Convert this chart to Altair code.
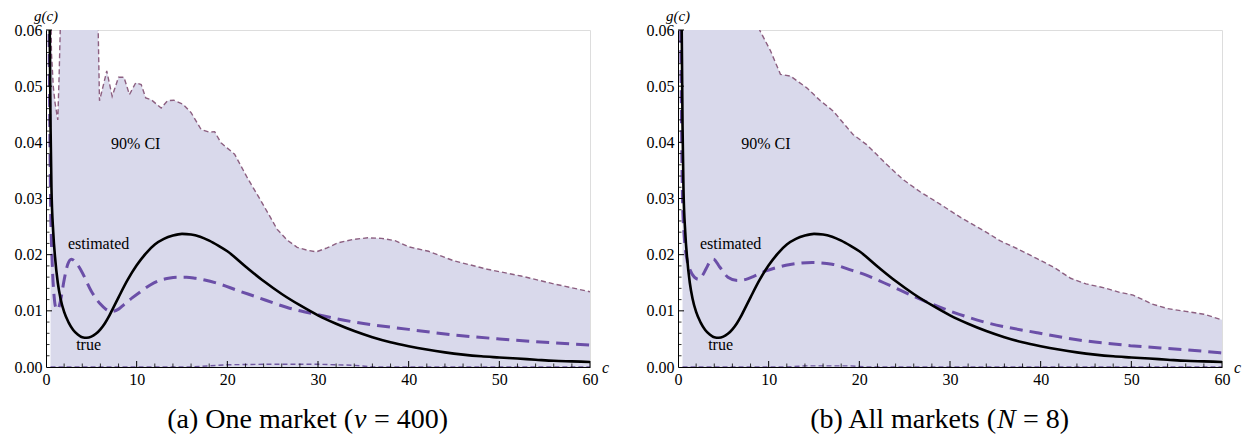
import altair as alt
import pandas as pd

# ---------------- data ----------------
true_c = [0.3, 0.4, 0.5, 0.6, 0.8, 1.0, 1.3, 1.6, 2.0, 2.5, 3.0, 3.5, 4.0, 4.5, 5.0, 5.5, 6.0, 6.5, 7.0, 7.5,
          8, 9, 10, 11, 12, 13, 14, 15, 16, 17, 18, 19, 20, 22, 24, 26, 28, 30, 32, 34, 36, 38, 40,
          42, 44, 46, 48, 50, 52, 54, 56, 58, 60]
true_v = [0.090, 0.062, 0.043, 0.032, 0.024, 0.0195, 0.0150, 0.0122, 0.0098, 0.0079, 0.0066, 0.0058, 0.0053,
          0.0052, 0.0054, 0.0059, 0.0067, 0.0078, 0.0092, 0.0108, 0.0124, 0.0155, 0.0181, 0.0202, 0.0218,
          0.0228, 0.0234, 0.0237, 0.0236, 0.0232, 0.0225, 0.0216, 0.0206, 0.0179, 0.0153, 0.0130, 0.0110,
          0.0092, 0.0077, 0.0064, 0.0053, 0.0044, 0.0037, 0.0031, 0.0026, 0.0022, 0.0019, 0.0017, 0.0015,
          0.0013, 0.0011, 0.0010, 0.0009]

# panel (a): one market
est_a_c = [0.3, 0.5, 0.7, 0.9, 1.1, 1.3, 1.6, 2.0, 2.4, 2.8, 3.2, 3.9, 5.0, 6.0, 6.6, 7.3, 8.0, 8.6, 9.5,
           10.5, 11.5, 12.5, 13.5, 14.5, 15.5, 16.5, 17.5, 19.3, 21, 23, 26.6, 30, 34, 40, 45, 50, 56, 60]
est_a_v = [0.070, 0.030, 0.018, 0.0125, 0.0105, 0.0102, 0.0118, 0.0155, 0.0183, 0.0192, 0.0188, 0.0171,
           0.0135, 0.0112, 0.0103, 0.0099, 0.0103, 0.0111, 0.0123, 0.0135, 0.0146, 0.0154, 0.0158, 0.0160,
           0.0160, 0.0158, 0.0155, 0.0147, 0.0137, 0.0126, 0.0106, 0.0093, 0.0080, 0.0067, 0.0057, 0.0050,
           0.0043, 0.0039]
up_a_c = [0.5, 0.6, 0.8, 1.0, 1.3, 1.45, 1.6, 2.0, 5.5, 5.7, 5.9, 6.3, 6.7, 7.3, 8.0, 8.6, 9.2, 9.9, 10.5,
          11.0, 11.6, 12.7, 13.4, 14.1, 15.1, 16.0, 17.1, 18.0, 18.6, 19.3, 20.8, 22.2, 23.7, 24.8, 25.5,
          26.6, 27.7, 28.8, 29.8, 31, 32.2, 33.8, 35.5, 37, 38.5, 40, 42.2, 45, 48.7, 52.4, 56, 60]
up_a_v = [0.070, 0.056, 0.050, 0.047, 0.044, 0.052, 0.062, 0.080, 0.080, 0.065, 0.0474, 0.0500, 0.0527,
          0.0482, 0.0516, 0.0516, 0.0485, 0.0506, 0.0503, 0.0479, 0.0476, 0.0461, 0.0474, 0.0475, 0.0468,
          0.0453, 0.0423, 0.0418, 0.0419, 0.0399, 0.0379, 0.0337, 0.0296, 0.0265, 0.0245, 0.0226, 0.0213,
          0.0208, 0.0205, 0.0212, 0.0221, 0.0227, 0.0230, 0.0229, 0.0225, 0.0214, 0.0206, 0.0189, 0.0174,
          0.0162, 0.0148, 0.0134]
lo_a_c = [0.5, 16, 18, 20, 25, 30, 34, 36, 60]
lo_a_v = [0.0, 0.0, 0.0002, 0.0004, 0.0005, 0.0005, 0.0003, 0.0, 0.0]

# panel (b): all markets
est_b_c = [0.3, 0.5, 0.7, 1.0, 1.35, 1.8, 2.3, 2.7, 3.1, 3.6, 3.9, 4.6, 5.5, 6.6, 7.5, 8.3, 9.7, 11.9, 14.8,
           17.0, 19.2, 20.7, 22.7, 26.4, 30.1, 33.8, 39.6, 44.7, 49.9, 55.8, 60]
est_b_v = [0.060, 0.0296, 0.0230, 0.0190, 0.0172, 0.0160, 0.0156, 0.0163, 0.0175, 0.0189, 0.0192, 0.0178,
           0.0160, 0.0154, 0.0156, 0.0161, 0.0171, 0.0181, 0.0186, 0.0183, 0.0172, 0.0164, 0.0150, 0.0123,
           0.0099, 0.0080, 0.0061, 0.0047, 0.0038, 0.0031, 0.0025]
up_b_c = [0.5, 8.5, 9.0, 10.2, 11.3, 12.4, 14.2, 15.7, 17.1, 19.3, 20.8, 23.0, 24.8, 26.7, 28.9, 31.2, 33.8,
          35.5, 37.5, 39.6, 41.5, 43.3, 45.0, 47.0, 48.7, 50.2, 52.3, 54, 56, 58, 60]
up_b_v = [0.090, 0.065, 0.060, 0.0563, 0.0521, 0.0518, 0.0497, 0.0474, 0.0456, 0.0414, 0.0396, 0.0361,
          0.0334, 0.0312, 0.0290, 0.0266, 0.0242, 0.0225, 0.0210, 0.0193, 0.0177, 0.0158, 0.0148, 0.0141,
          0.0133, 0.0128, 0.0112, 0.0104, 0.0099, 0.0094, 0.0084]
lo_b_c = [0.5, 12, 14, 19, 21, 60]
lo_b_v = [0.0, 0.0, 0.0002, 0.0002, 0.0, 0.0]

# axis ticks
x_labels = [0, 10, 20, 30, 40, 50, 60]
x_major = [10, 20, 30, 40, 50, 60]
x_minor = [2, 4, 6, 8, 12, 14, 16, 18, 22, 24, 26, 28, 32, 34, 36, 38, 42, 44, 46, 48, 52, 54, 56, 58]
y_labels = [0.0, 0.01, 0.02, 0.03, 0.04, 0.05, 0.06]
y_major = [0.01, 0.02, 0.03, 0.04, 0.05, 0.06]
y_minor = [0.002, 0.004, 0.006, 0.008, 0.012, 0.014, 0.016, 0.018, 0.022, 0.024, 0.026, 0.028,
           0.032, 0.034, 0.036, 0.038, 0.042, 0.044, 0.046, 0.048, 0.052, 0.054, 0.056, 0.058]

# annotations
ann_text = ["90% CI", "estimated", "true"]
ann_a_c = [9.9, 5.8, 4.7]
ann_a_v = [0.0397, 0.0219, 0.0039]
ann_b_c = [9.7, 5.8, 4.7]
ann_b_v = [0.0397, 0.0219, 0.0039]

cap_a = ["(a) One market (", "v", "= 400)"]
cap_b = ["(b) All markets (", "N", "= 8)"]

# ---------------- styling ----------------
W, H = 544, 337
SERIF = "Liberation Serif"
FILL = "#d9d9eb"
CI_COLOR = "#8c5f80"
EST_COLOR = "#6b4fa8"

xs = alt.Scale(domain=[0, 60], nice=False, zero=False)
ys = alt.Scale(domain=[0, 0.06], nice=False, zero=False)

X = alt.X("c:Q", scale=xs, title=None,
          axis=alt.Axis(values=x_labels, ticks=False, tickSize=0, grid=False, domainColor="black",
                        domainWidth=1, labelFont=SERIF, labelFontSize=16, labelColor="black",
                        labelPadding=4, labelFlush=False, format="d"))
Y = alt.Y("v:Q", scale=ys, title=None,
          axis=alt.Axis(values=y_labels, ticks=False, tickSize=0, grid=False, domainColor="black",
                        domainWidth=1, labelFont=SERIF, labelFontSize=16, labelColor="black",
                        labelPadding=4, labelFlush=False, format=".2f"))


def panel(est_c, est_v, up_c, up_v, lo_c, lo_v, ann_c, ann_v, cap, cap_x0, gap):
    df_true = pd.DataFrame({"c": true_c, "v": true_v})
    df_est = pd.DataFrame({"c": est_c, "v": est_v})
    df_up = pd.DataFrame({"c": up_c, "v": up_v})
    df_lo = pd.DataFrame({"c": lo_c, "v": lo_v})
    df_ann = pd.DataFrame({"c": ann_c, "v": ann_v, "t": ann_text})

    area = alt.Chart(df_up).mark_area(color=FILL, opacity=1, clip=True).encode(
        x=X, y=Y, y2=alt.datum(0))
    up_line = alt.Chart(df_up).mark_line(color=CI_COLOR, strokeWidth=1.4, strokeDash=[5, 3],
                                         clip=True).encode(x=X, y=Y)
    lo_line = alt.Chart(df_lo).mark_line(color="#6f58a0", strokeWidth=1.4, strokeDash=[5, 3],
                                         clip=True).encode(x=X, y=Y)
    est_line = alt.Chart(df_est).mark_line(color=EST_COLOR, strokeWidth=3, strokeDash=[13, 7],
                                           interpolate="monotone", clip=True).encode(x=X, y=Y)
    true_line = alt.Chart(df_true).mark_line(color="black", strokeWidth=2.6,
                                             interpolate="monotone", clip=True).encode(x=X, y=Y)

    xmaj = alt.Chart(pd.DataFrame({"c": x_major})).mark_rule(color="black", strokeWidth=1).encode(
        x=X, y=alt.value(H), y2=alt.value(H - 6))
    xmin = alt.Chart(pd.DataFrame({"c": x_minor})).mark_rule(color="black", strokeWidth=0.8).encode(
        x=X, y=alt.value(H), y2=alt.value(H - 3.5))
    ymaj = alt.Chart(pd.DataFrame({"v": y_major})).mark_rule(color="black", strokeWidth=1).encode(
        y=Y, x=alt.value(0), x2=alt.value(6))
    ymin = alt.Chart(pd.DataFrame({"v": y_minor})).mark_rule(color="black", strokeWidth=0.8).encode(
        y=Y, x=alt.value(0), x2=alt.value(3.5))

    ann = alt.Chart(df_ann).mark_text(font=SERIF, fontSize=16, color="black").encode(
        x=X, y=Y, text="t:N")

    one = pd.DataFrame({"k": [0]})
    gc = alt.Chart(one).mark_text(text="g(c)", font=SERIF, fontSize=15, fontStyle="italic",
                                  color="black", baseline="alphabetic", align="center").encode(
        x=alt.value(0), y=alt.value(-9))
    cl = alt.Chart(one).mark_text(text="c", font=SERIF, fontSize=16, fontStyle="italic",
                                  color="black", baseline="alphabetic", align="left").encode(
        x=alt.value(W + 12), y=alt.value(H + 6))

    c1 = alt.Chart(one).mark_text(text=cap[0], font=SERIF, fontSize=28, color="black",
                                  baseline="alphabetic", align="right").encode(
        x=alt.value(cap_x0), y=alt.value(H + 61))
    c2 = alt.Chart(one).mark_text(text=cap[1], font=SERIF, fontSize=28, fontStyle="italic",
                                  color="black", baseline="alphabetic", align="left").encode(
        x=alt.value(cap_x0 + 1), y=alt.value(H + 61))
    c3 = alt.Chart(one).mark_text(text=cap[2], font=SERIF, fontSize=28, color="black",
                                  baseline="alphabetic", align="left").encode(
        x=alt.value(cap_x0 + gap), y=alt.value(H + 61))

    return alt.layer(area, lo_line, up_line, est_line, true_line, xmaj, xmin, ymaj, ymin, ann,
                     gc, cl, c1, c2, c3).properties(width=W, height=H)


left = panel(est_a_c, est_a_v, up_a_c, up_a_v, lo_a_c, lo_a_v, ann_a_c, ann_a_v, cap_a, 307, 21)
right = panel(est_b_c, est_b_v, up_b_c, up_b_v, lo_b_c, lo_b_v, ann_b_c, ann_b_v, cap_b, 318, 27)

chart = alt.hconcat(left, right, spacing=88, bounds="flush").properties(
    padding={"left": 5, "top": 0, "right": 0, "bottom": 0}
).configure_view(stroke=None).configure(background="white")

chart.save("out.html", embed_options={"renderer": "svg", "actions": False})
